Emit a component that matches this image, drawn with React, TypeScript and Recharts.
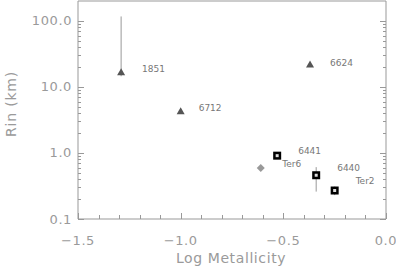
import React from 'react'
import { ScatterChart, Scatter, XAxis, YAxis, ErrorBar, LabelList } from 'recharts'

// clusters drawn as triangles
const triNames = ['1851', '6712', '6624']
const triMetal = [-1.29, -1.0, -0.37]
const triRin = [16.7, 4.3, 21.8]
const triErrLow = [2.2, 0.3, 0]
const triErrHigh = [100, 0.4, 0]

// clusters drawn as squares
const sqNames = ['6441', '6440', 'Ter2']
const sqMetal = [-0.53, -0.34, -0.25]
const sqRin = [0.91, 0.46, 0.27]
const sqErrLow = [0, 0.2, 0.04]
const sqErrHigh = [0, 0.15, 0.04]

// unlabeled gray diamond
const diaMetal = [-0.61]
const diaRin = [0.59]

const xTicks = [-1.5, -1.4, -1.3, -1.2, -1.1, -1.0, -0.9, -0.8, -0.7, -0.6, -0.5, -0.4, -0.3, -0.2, -0.1, 0.0]
const yTicks = [
  0.1, 0.2, 0.3, 0.4, 0.5, 0.6, 0.7, 0.8, 0.9,
  1, 2, 3, 4, 5, 6, 7, 8, 9,
  10, 20, 30, 40, 50, 60, 70, 80, 90,
  100,
]

// label offsets relative to each point (styling only)
const labelOffsets: Record<string, [number, number][]> = {
  '1851': [[21, -3]],
  '6712': [[18, -3]],
  '6624': [[20, -2]],
  '6441': [[21, -5], [5, 8]],
  '6440': [[21, -7]],
  Ter2: [[21, -10]],
}
const extraLabels: Record<string, string[]> = { '6441': ['6441', 'Ter6'] }

const triData = triNames.map((n, i) => ({ name: n, x: triMetal[i], y: triRin[i], err: [triErrLow[i], triErrHigh[i]] }))
const sqData = sqNames.map((n, i) => ({ name: n, x: sqMetal[i], y: sqRin[i], err: [sqErrLow[i], sqErrHigh[i]] }))
const diaData = diaMetal.map((x, i) => ({ x, y: diaRin[i] }))

const AXIS = '#999'
const TEXT = '#9a9a9a'
const FONT = '"DejaVu Sans", Verdana, sans-serif'

const isMajorX = (v: number) => Math.abs(v * 2 - Math.round(v * 2)) < 1e-6
const isMajorY = (v: number) => Math.abs(Math.log10(v) - Math.round(Math.log10(v))) < 1e-6

const xTick = (side: 'bottom' | 'top') => (props: any) => {
  const { x, y, payload } = props
  const v = payload.value
  const major = isMajorX(v)
  const len = major ? 6 : 4
  const dir = side === 'bottom' ? -1 : 1
  const px = Math.round(x) + 0.5
  return (
    <g>
      <line x1={px} y1={y} x2={px} y2={y + dir * len} stroke={AXIS} shapeRendering="crispEdges" />
      {side === 'bottom' && major && (
        <text x={x} y={y + 21} textAnchor="middle" dominantBaseline="central" fontSize={13} letterSpacing={0.6} fill={TEXT} fontFamily={FONT}>
          {v === 0 ? '0.0' : '\u2212' + Math.abs(v).toFixed(1)}
        </text>
      )}
    </g>
  )
}

const yTick = (side: 'left' | 'right') => (props: any) => {
  const { x, y, payload } = props
  const v = payload.value
  const major = isMajorY(v)
  const len = major ? 6 : 3
  const dir = side === 'left' ? 1 : -1
  const py = Math.round(y) + 0.5
  return (
    <g>
      <line x1={x} y1={py} x2={x + dir * len} y2={py} stroke={AXIS} shapeRendering="crispEdges" />
      {side === 'left' && major && (
        <text x={x - 6} y={y} textAnchor="end" dominantBaseline="central" fontSize={13} letterSpacing={0.6} fill={TEXT} fontFamily={FONT}>
          {v.toFixed(1)}
        </text>
      )}
    </g>
  )
}

const Triangle = (p: any) => (
  <polygon points={`${p.cx - 4},${p.cy + 3} ${p.cx + 4},${p.cy + 3} ${p.cx},${p.cy - 4}`} fill="#555" />
)
const Square = (p: any) => (
  <g>
    <rect x={p.cx - 4} y={p.cy - 4} width={8} height={8} fill="#000" />
    <rect x={p.cx - 1.5} y={p.cy - 1.5} width={3} height={3} fill="#ddd" />
  </g>
)
const Diamond = (p: any) => (
  <polygon points={`${p.cx},${p.cy - 4} ${p.cx + 4},${p.cy} ${p.cx},${p.cy + 4} ${p.cx - 4},${p.cy}`} fill="#999" />
)

const PointLabel = (props: any) => {
  const { x, y, width, height, value } = props
  const cx = x + (width || 0) / 2
  const cy = y + (height || 0) / 2
  const texts = extraLabels[value] || [value]
  const offs = labelOffsets[value] || [[20, -3]]
  return (
    <g>
      {texts.map((t, i) => (
        <text key={t} x={cx + offs[i][0]} y={cy + offs[i][1]} dominantBaseline="central" fontSize={9} fill="#777" fontFamily={FONT}>
          {t}
        </text>
      ))}
    </g>
  )
}

const XTitle = () => (
  <text x={231} y={258} textAnchor="middle" dominantBaseline="central" fontSize={14} letterSpacing={0.6} fill={TEXT} fontFamily={FONT}>
    Log Metallicity
  </text>
)
const YTitle = () => (
  <text x={11} y={104} transform="rotate(-90 11 104)" textAnchor="middle" dominantBaseline="central" fontSize={14} letterSpacing={0.8} fill={TEXT} fontFamily={FONT}>
    Rin (km)
  </text>
)

export default function App() {
  return (
    <div style={{ position: 'absolute', left: 0, top: 0, width: 396, height: 267, background: '#fff' }}>
      <ScatterChart width={396} height={267} margin={{ top: 0, right: 9, bottom: 0, left: 0 }}>
        <XAxis
          xAxisId="b"
          dataKey="x"
          type="number"
          domain={[-1.5, 0]}
          ticks={xTicks}
          interval={0}
          height={48}
          tickSize={0}
          tickMargin={0}
          tickLine={false}
          axisLine={{ stroke: AXIS }}
          tick={xTick('bottom')}
          allowDataOverflow
          label={{ content: XTitle }}
        />
        <XAxis
          xAxisId="t"
          orientation="top"
          type="number"
          domain={[-1.5, 0]}
          ticks={xTicks}
          interval={0}
          height={1}
          tickSize={0}
          tickMargin={0}
          tickLine={false}
          axisLine={{ stroke: AXIS }}
          tick={xTick('top')}
          allowDataOverflow
        />
        <YAxis
          yAxisId="l"
          dataKey="y"
          type="number"
          scale="log"
          domain={[0.1, 200]}
          ticks={yTicks}
          interval={0}
          width={78}
          tickSize={0}
          tickMargin={0}
          tickLine={false}
          axisLine={{ stroke: AXIS }}
          tick={yTick('left')}
          allowDataOverflow
          label={{ content: YTitle }}
        />
        <YAxis
          yAxisId="r"
          orientation="right"
          type="number"
          scale="log"
          domain={[0.1, 200]}
          ticks={yTicks}
          interval={0}
          width={1}
          tickSize={0}
          tickMargin={0}
          tickLine={false}
          axisLine={{ stroke: AXIS }}
          tick={yTick('right')}
          allowDataOverflow
        />
        <Scatter xAxisId="b" yAxisId="l" data={diaData} shape={Diamond} isAnimationActive={false} />
        <Scatter xAxisId="b" yAxisId="l" data={triData} shape={Triangle} isAnimationActive={false}>
          <ErrorBar dataKey="err" direction="y" width={0} stroke="#999" strokeWidth={1} isAnimationActive={false} />
          <LabelList dataKey="name" content={PointLabel} />
        </Scatter>
        <Scatter xAxisId="b" yAxisId="l" data={sqData} shape={Square} isAnimationActive={false}>
          <ErrorBar dataKey="err" direction="y" width={0} stroke="#999" strokeWidth={1} isAnimationActive={false} />
          <LabelList dataKey="name" content={PointLabel} />
        </Scatter>
      </ScatterChart>
    </div>
  )
}
